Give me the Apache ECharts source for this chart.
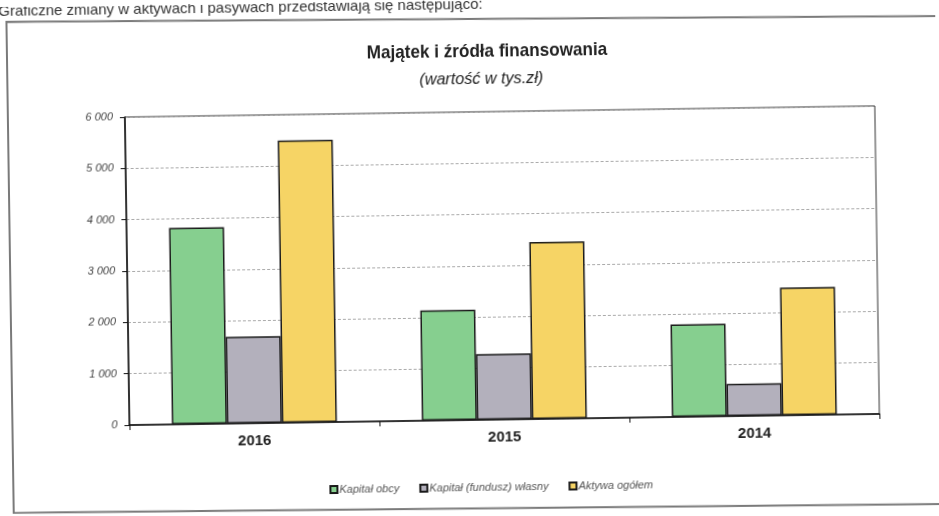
<!DOCTYPE html>
<html>
<head>
<meta charset="utf-8">
<script src="https://cdn.jsdelivr.net/npm/echarts@6/dist/echarts.min.js"></script>
<style>
  html, body { margin: 0; padding: 0; background: #fff; overflow: hidden; }
  #chart { width: 939px; height: 516px; transform: rotate(-0.85deg); transform-origin: 50% 50%; }
</style>
</head>
<body>
<div id="chart"></div>
<script>
// Values in thousands of PLN
const years = ['2016', '2015', '2014'];
const kapitalObcy = [3830, 2150, 1800];
const kapitalWlasny = [1690, 1280, 630];
const aktywaOgolem = [5500, 3450, 2490];
const seriesNames = ['Kapitał obcy', 'Kapitał (fundusz) własny', 'Aktywa ogółem'];
const yMin = 0, yMax = 6000, yStep = 1000;

const SANS = '"Liberation Sans", Arial, sans-serif';

const fmt = v => String(v).replace(/\B(?=(\d{3})+(?!\d))/g, ' ');

const barStyle = color => ({ color: color, borderColor: '#1a1a1a', borderWidth: 1.5 });

const chart = echarts.init(document.getElementById('chart'), null, { renderer: 'canvas' });
chart.setOption({
  backgroundColor: '#ffffff',
  animation: false,
  graphic: [
    {
      type: 'text', left: 2, top: -3, silent: true,
      style: { text: 'Graficzne zmiany w aktywach i pasywach przedstawiają się następująco:',
               font: '15px ' + SANS, fill: '#333' }
    },
    {
      // page frame around the chart
      type: 'polygon', silent: true, z: -10,
      shape: { points: [[10, 15], [952, 23], [952, 511], [10, 506]] },
      style: { fill: 'none', stroke: '#7a7a7a', lineWidth: 2 }
    },
    {
      type: 'text', x: 490, y: 52, scaleX: 0.9, silent: true,
      style: { text: 'Majątek i źródła finansowania', font: 'bold 19px ' + SANS, fill: '#222',
               align: 'center', verticalAlign: 'middle', textAlign: 'center', textVerticalAlign: 'middle' }
    },
    {
      type: 'text', x: 484, y: 79, scaleX: 0.95, silent: true,
      style: { text: '(wartość w tys.zł)', font: 'italic 17px ' + SANS, fill: '#222',
               align: 'center', verticalAlign: 'middle', textAlign: 'center', textVerticalAlign: 'middle' }
    }
  ],
  legend: {
    data: seriesNames,
    left: 326, top: 482,
    itemWidth: 7, itemHeight: 7, itemGap: 20,
    padding: 0,
    icon: 'rect',
    textStyle: { fontFamily: SANS, fontStyle: 'italic', fontSize: 11, color: '#555', padding: [0, 0, 0, -3] }
  },
  grid: {
    left: 127, right: 62, top: 112, bottom: 96,
    show: true, borderColor: '#333', borderWidth: 1, backgroundColor: 'transparent'
  },
  xAxis: {
    type: 'category',
    data: years,
    axisLine: { lineStyle: { color: '#111', width: 1.5 } },
    axisTick: { show: true, length: 5, lineStyle: { color: '#111' } },
    axisLabel: { fontFamily: SANS, fontWeight: 'bold', fontSize: 15, color: '#222', margin: 10 },
    splitLine: { show: false }
  },
  yAxis: {
    type: 'value',
    min: yMin, max: yMax, interval: yStep,
    axisLine: { show: true, lineStyle: { color: '#111', width: 1.5 } },
    axisTick: { show: true, length: 5, lineStyle: { color: '#111' } },
    axisLabel: { fontFamily: SANS, fontStyle: 'italic', fontSize: 11, color: '#444', margin: 12, formatter: fmt },
    splitLine: { lineStyle: { color: '#aaaaaa', type: [3, 2], width: 1 } }
  },
  series: [
    { name: seriesNames[0], type: 'bar', data: kapitalObcy, barWidth: 55, barGap: '0%', itemStyle: barStyle('#86cf8f') },
    { name: seriesNames[1], type: 'bar', data: kapitalWlasny, barWidth: 55, barGap: '0%', itemStyle: barStyle('#b3b0bc') },
    { name: seriesNames[2], type: 'bar', data: aktywaOgolem, barWidth: 55, barGap: '0%', itemStyle: barStyle('#f6d465') }
  ]
});
</script>
</body>
</html>
